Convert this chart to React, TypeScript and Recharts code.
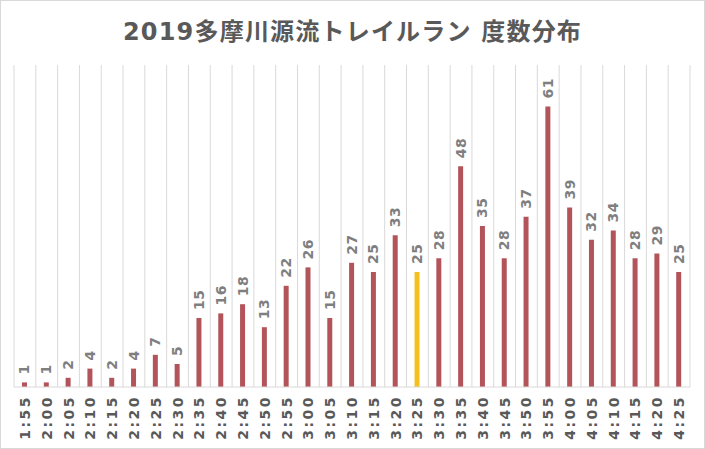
import React from "react";
import { BarChart, Bar, XAxis, YAxis, CartesianGrid, Cell, LabelList } from "recharts";

const categories = [
  "1:55", "2:00", "2:05", "2:10", "2:15", "2:20", "2:25", "2:30", "2:35", "2:40",
  "2:45", "2:50", "2:55", "3:00", "3:05", "3:10", "3:15", "3:20", "3:25", "3:30",
  "3:35", "3:40", "3:45", "3:50", "3:55", "4:00", "4:05", "4:10", "4:15", "4:20", "4:25",
];
const counts = [
  1, 1, 2, 4, 2, 4, 7, 5, 15, 16,
  18, 13, 22, 26, 15, 27, 25, 33, 25, 28,
  48, 35, 28, 37, 61, 39, 32, 34, 28, 29, 25,
];
const highlightCategory = "3:25";
const title = "2019多摩川源流トレイルラン 度数分布";

const data = categories.map((c, i) => ({ time: c, count: counts[i] }));

const BAR_COLOR = "#B3545A";
const HIGHLIGHT_COLOR = "#F5BF1F";

const FONT = "'DejaVu Sans', 'Noto Sans CJK JP', sans-serif";

const Tick = (props: any) => {
  const { x, y, payload } = props;
  return (
    <text
      x={x}
      y={y}
      transform={`rotate(-90, ${x}, ${y})`}
      textAnchor="end"
      dominantBaseline="central"
      fontFamily={FONT}
      fontWeight="bold"
      fontSize={14}
      letterSpacing={2.5}
      fill="#595959"
    >
      {payload.value}
    </text>
  );
};

const BarLabel = (props: any) => {
  const { x, y, width, value } = props;
  const cx = x + width / 2;
  const cy = y - 8;
  return (
    <text
      x={cx}
      y={cy}
      transform={`rotate(-90, ${cx}, ${cy})`}
      textAnchor="start"
      dominantBaseline="central"
      fontFamily={FONT}
      fontWeight="bold"
      fontSize={14}
      letterSpacing={0.5}
      fill="#7F7F7F"
    >
      {value}
    </text>
  );
};

export default function App() {
  const n = categories.length;
  return (
    <div
      style={{
        position: "absolute",
        left: 0,
        top: 0,
        width: 705,
        height: 449,
        boxSizing: "border-box",
        border: "1px solid #D9D9D9",
        background: "#fff",
      }}
    >
      <div
        style={{
          position: "absolute",
          left: 0,
          top: 15,
          width: 703,
          textAlign: "center",
          fontFamily: FONT,
          fontWeight: "bold",
          fontSize: 24,
          letterSpacing: 1.2,
          color: "#595959",
          whiteSpace: "pre",
          lineHeight: "32px",
        }}
      >
        {title}
      </div>
      <BarChart
        width={703}
        height={447}
        data={data}
        margin={{ top: 64, right: 14, left: 13, bottom: 0 }}
        barCategoryGap={0}
      >
        <CartesianGrid
          horizontal={false}
          stroke="#D9D9D9"
          verticalCoordinatesGenerator={({ offset }: any) =>
            Array.from({ length: n + 1 }, (_, i) => offset.left + (i * offset.width) / n)
          }
        />
        <XAxis
          dataKey="time"
          interval={0}
          height={61}
          tickLine={false}
          tickSize={0}
          tickMargin={8}
          axisLine={{ stroke: "#D9D9D9" }}
          tick={<Tick />}
        />
        <YAxis hide domain={[0, 70]} />
        <Bar dataKey="count" barSize={5} isAnimationActive={false}>
          {data.map((d) => (
            <Cell key={d.time} fill={d.time === highlightCategory ? HIGHLIGHT_COLOR : BAR_COLOR} />
          ))}
          <LabelList dataKey="count" content={<BarLabel />} />
        </Bar>
      </BarChart>
    </div>
  );
}
